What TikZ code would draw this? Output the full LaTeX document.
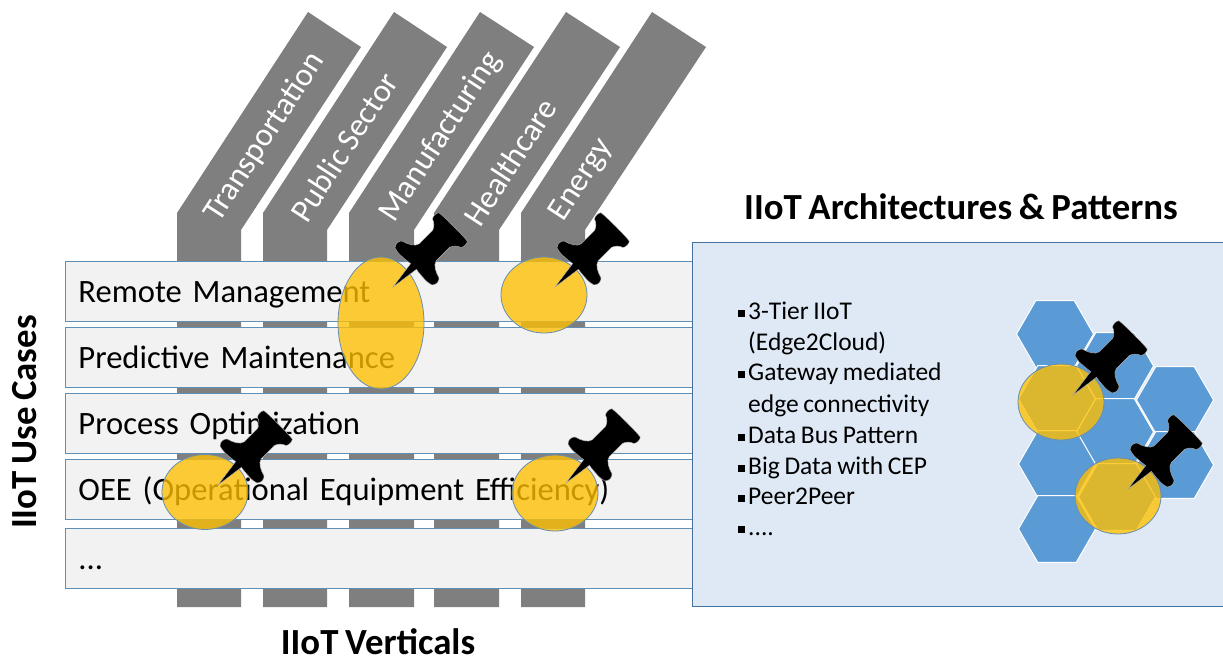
\documentclass[tikz,border=0pt]{standalone}
\usepackage{fontspec}
\setmainfont[WordSpace=0.8]{Carlito}
\usetikzlibrary{shapes.geometric}
\definecolor{stripgrey}{HTML}{7F7F7F}
\definecolor{rowfill}{HTML}{F2F2F2}
\definecolor{rowline}{HTML}{5F8FB4}
\definecolor{panelfill}{HTML}{DEE9F5}
\definecolor{panelline}{HTML}{41719C}
\definecolor{hexfill}{HTML}{5B9BD5}
\definecolor{spot}{HTML}{FFC000}
\newcommand{\bigfs}{\fontsize{32.6}{38}\selectfont}
\newcommand{\listfs}{\fontsize{25.5}{30}\selectfont}
\newcommand{\bul}{\llap{\rule[2pt]{7pt}{7pt}\hspace{3pt}}}
\tikzset{
  x=1pt,y=-1pt,
  strip/.style={fill=stripgrey,draw=none},
  striplabel/.style={text=white,rotate=57,font=\bigfs,inner sep=0pt},
  rowbox/.style={draw=rowline,line width=.9pt,fill=rowfill,anchor=north west,minimum width=627pt,minimum height=60pt,
     inner sep=0pt,align=left,font=\bigfs,text width=601pt,text height=24pt,text depth=2pt},
  panel/.style={draw=panelline,line width=1pt,fill=panelfill},
  hexa/.style={regular polygon,regular polygon sides=6,minimum size=77pt,inner sep=0pt,fill=hexfill,draw=white,line width=1pt},
  spotell/.style={ellipse,draw=panelline!80!white,line width=.8pt,fill=spot,fill opacity=.78,inner sep=0pt},
  title/.style={font=\bfseries\fontsize{36.8}{42}\selectfont,inner sep=0pt},
  listitem/.style={font=\listfs,anchor=base west,inner sep=0pt},
  pinshape/.style={fill=black,draw=white!70!black,line width=.4pt}
}
\newcommand{\pushpin}[1]{%
 \path[pinshape,shift={#1},x={(.707pt,.707pt)},y={(.707pt,-.707pt)}]
  (0,0) -- (29,4)
  .. controls (28,12) and (27,22) .. (29,26)
  .. controls (31,29) and (37,29) .. (39,26)
  .. controls (41,19) and (44,13) .. (49,12)
  -- (68,12)
  .. controls (72,13) and (75,17) .. (76,20)
  .. controls (78,22) and (83,22) .. (85,20)
  .. controls (86,12) and (86,-12) .. (85,-20)
  .. controls (83,-22) and (78,-22) .. (76,-20)
  .. controls (75,-17) and (72,-13) .. (68,-12)
  -- (49,-12)
  .. controls (44,-13) and (41,-19) .. (39,-26)
  .. controls (37,-29) and (31,-29) .. (29,-26)
  .. controls (27,-22) and (28,-12) .. (29,-4)
  -- cycle;}
\begin{document}
\begin{tikzpicture}
\useasboundingbox (0,0) rectangle (1223,660);
% vertical strips
\fill[strip] (177,607) -- (177,213) -- (308,12) -- (361,47) -- (241,230) -- (241,607) -- cycle;
\fill[strip] (263,607) -- (263,213) -- (394,12) -- (447,47) -- (327,230) -- (327,607) -- cycle;
\fill[strip] (349,607) -- (349,213) -- (480,12) -- (534,47) -- (414,230) -- (414,607) -- cycle;
\fill[strip] (434,607) -- (434,213) -- (566,12) -- (620,47) -- (499,230) -- (499,607) -- cycle;
\fill[strip] (521,607) -- (521,213) -- (652,12) -- (706,47) -- (585,230) -- (585,607) -- cycle;
\node[striplabel] (vt) at (265,137) {Transportation};
\node[striplabel] (vp) at (344,147) {Public Sector};
\node[striplabel] (vm) at (441,137) {Manufacturing};
\node[striplabel] (vh) at (510,162) {Healthcare};
\node[striplabel] (ve) at (582,180) {Energy};
% rows
\node[rowbox] (r1) at (65,261) {Remote Management};
\node[rowbox] (r2) at (65,327) {Predictive Maintenance};
\node[rowbox] (r3) at (65,393) {Process Optimization};
\node[rowbox] (r4) at (65,459) {OEE (Operational Equipment Efficiency)};
\node[rowbox] (r5) at (65,528) {...};
% panel
\path[panel] (692,243) rectangle (1224,606);
\node[title,anchor=base] (archt) at (961,220) {IIoT Architectures \& Patterns};
\node[title,anchor=base] (vert) at (378,654) {IIoT Verticals};
\node[title,anchor=base,rotate=90] (uc) at (36,422) {IIoT Use Cases};
% list
\node[listitem] (l1) at (748,319) {\bul 3-Tier IIoT};
\node[listitem] (l1b) at (748,350) {(Edge2Cloud)};
\node[listitem] (l2) at (748,380) {\bul Gateway mediated};
\node[listitem] (l2b) at (748,412) {edge connectivity};
\node[listitem] (l3) at (748,443) {\bul Data Bus Pattern};
\node[listitem] (l4) at (748,474) {\bul Big Data with CEP};
\node[listitem] (l5) at (748,504) {\bul Peer2Peer};
\node[listitem] (l6) at (748,535) {\bul ....};
% hexagons
\foreach \n/\cx/\cy in {a/1055/334,b/1115/366,c/1175/400,d/1057/399,e/1115/432,f/1057/464,g/1175/465,h/1117/497,i/1057/529}
  \node[hexa,shape border rotate=0] (hex\n) at (\cx,\cy) {};
% highlight ellipses
\node[spotell,minimum width=86pt,minimum height=132pt] (s1) at (381,323) {};
\node[spotell,minimum width=86pt,minimum height=76pt] (s2) at (544,295) {};
\node[spotell,minimum width=86pt,minimum height=75pt] (s3) at (205,492) {};
\node[spotell,minimum width=86pt,minimum height=76pt] (s4) at (555,493) {};
\node[spotell,minimum width=86pt,minimum height=76pt] (s5) at (1061,402) {};
\node[spotell,minimum width=86pt,minimum height=76pt] (s6) at (1118,496) {};
% pins
\pushpin{(393,287)}
\pushpin{(555,287)}
\pushpin{(218,485)}
\pushpin{(566,483)}
\pushpin{(1073,395)}
\pushpin{(1128,489)}
\end{tikzpicture}
\end{document}
